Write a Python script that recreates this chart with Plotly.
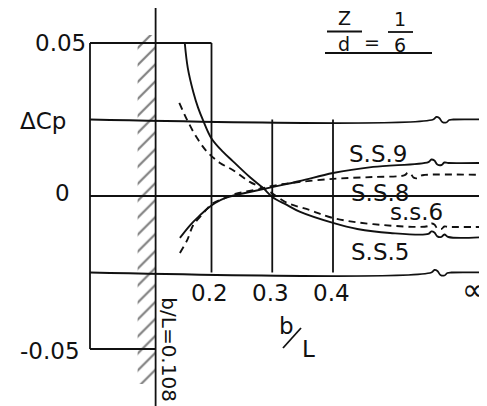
import plotly.graph_objects as go

# ---------------- data ----------------
x_inf = 0.652                      # where the "∞" column sits on the drawn b/L axis
x_tick_vals = [0.2, 0.3, 0.4, x_inf]
x_tick_text = ["0.2", "0.3", "0.4", "∞"]
y_tick_vals = [0.05, 0.0, -0.05]
y_tick_text = ["0.05", "0", "-0.05"]
wall_b_over_L = 0.108

ss5_x = [0.156, 0.161, 0.170, 0.178, 0.186, 0.200, 0.219, 0.235, 0.263, 0.285, 0.300, 0.324, 0.346, 0.400, 0.440, 0.494, 0.557]
ss5_y = [0.0500, 0.0418, 0.0340, 0.0288, 0.0248, 0.0188, 0.0144, 0.0114, 0.0062, 0.0026, -0.0003, -0.0029, -0.0052, -0.0088, -0.0108, -0.0121, -0.0124]
ss5_inf = -0.0134

ss6_x = [0.147, 0.160, 0.176, 0.193, 0.214, 0.235, 0.263, 0.291, 0.324, 0.362, 0.400, 0.466, 0.557]
ss6_y = [0.0304, 0.0248, 0.0190, 0.0144, 0.0108, 0.0085, 0.0046, 0.0020, -0.0022, -0.0046, -0.0072, -0.0092, -0.0098]
ss6_inf = -0.0101

ss9_x = [0.148, 0.165, 0.178, 0.193, 0.206, 0.222, 0.239, 0.263, 0.300, 0.346, 0.400, 0.466, 0.557]
ss9_y = [-0.0137, -0.0095, -0.0069, -0.0042, -0.0023, -0.0007, 0.0003, 0.0013, 0.0029, 0.0049, 0.0075, 0.0095, 0.0111]
ss9_inf = 0.0108

ss8_x = [0.148, 0.160, 0.170, 0.184, 0.194, 0.203, 0.222, 0.239, 0.280, 0.300, 0.329, 0.400, 0.466, 0.518]
ss8_y = [-0.0186, -0.0144, -0.0095, -0.0062, -0.0039, -0.0023, -0.0007, 0.0007, 0.0023, 0.0033, 0.0042, 0.0056, 0.0062, 0.0068]
ss8_inf = 0.0069

series_names = ["S.S.9", "S.S.8", "s.s.6", "S.S.5"]

# ---------------- layout helpers ----------------
OFF = 8                     # page body margin of the browser
WIN_W, WIN_H = 487, 406
W, H = WIN_W - OFF, WIN_H - OFF
X_RANGE = [(OFF - 90) / 607.5, (WIN_W - 90) / 607.5]
Y_RANGE = [(196 - WIN_H) / 3060, (196 - OFF) / 3060]
PX_X = (X_RANGE[1] - X_RANGE[0]) / W
PX_Y = (Y_RANGE[1] - Y_RANGE[0]) / H
WIGGLE = [(3, 2.5), (6, 1.5), (9, -2.5), (13, -3.0), (16, -0.5)]   # break symbol, px
FONT = "DejaVu Sans"
INK = "#111111"


def px(xw):   # window pixel -> paper x
    return (xw - OFF) / W


def py(yw):   # window pixel -> paper y
    return 1 - (yw - OFF) / H


def broken(xs, ys, y_end):
    x0, y0 = xs[-1], ys[-1]
    wx = [x0 + dx * PX_X for dx, dy in WIGGLE]
    wy = [y0 + dy * PX_Y for dx, dy in WIGGLE]
    return list(xs) + wx + [x0 + 20 * PX_X, x_inf], list(ys) + wy + [y_end, y_end]


fig = go.Figure()


def seg(xs, ys, width=1.8, dash="solid", shape="linear"):
    fig.add_trace(go.Scatter(x=xs, y=ys, mode="lines", hoverinfo="skip",
                             line=dict(color=INK, width=width, dash=dash, shape=shape)))


# hatched wall
hx0 = wall_b_over_L - 18 * PX_X
hy1 = Y_RANGE[1] - 27 * PX_Y
hy0 = Y_RANGE[0] + 22 * PX_Y
fig.add_trace(go.Scatter(
    x=[hx0, wall_b_over_L, wall_b_over_L, hx0, hx0],
    y=[hy1, hy1, hy0, hy0, hy1],
    mode="lines", line=dict(width=0), fill="toself", fillcolor="rgba(0,0,0,0)",
    fillpattern=dict(shape="/", size=12, solidity=0.18, fgcolor="#000000", bgcolor="rgba(0,0,0,0)"),
    hoverinfo="skip"))
seg([wall_b_over_L, wall_b_over_L], [Y_RANGE[1], Y_RANGE[0]], width=1.8)

# frame / grid
y_top, y_q, y_0, y_mq, y_bot = 0.05, 0.025, 0.0, -0.025, -0.05
seg([0, 0.2], [y_top, y_top])
bx, by = broken([0, 0.565], [y_q, y_q], y_q)
seg(bx, by, shape="spline")
seg([0, x_inf], [y_0, y_0])
bx, by = broken([0, 0.562], [y_mq, y_mq], y_mq)
seg(bx, by, shape="spline")
seg([0, wall_b_over_L], [y_bot, y_bot])
seg([0, 0], [y_bot, y_top])
seg([0.2, 0.2], [y_mq, y_top])
for xv in [0.3, 0.4, x_inf]:
    seg([xv, xv], [y_mq, y_q])

# curves
for xs, ys, yinf, dash in [(ss9_x, ss9_y, ss9_inf, "solid"),
                           (ss8_x, ss8_y, ss8_inf, "7px,5px"),
                           (ss6_x, ss6_y, ss6_inf, "7px,5px"),
                           (ss5_x, ss5_y, ss5_inf, "solid")]:
    bx, by = broken(xs, ys, yinf)
    seg(bx, by, width=1.9, dash=dash, shape="spline")

ann = []


def text(t, x, y, size=22, xref="x", yref="y", xanchor="center", yanchor="middle",
         xshift=0, yshift=0, angle=0):
    ann.append(dict(text=t, x=x, y=y, xref=xref, yref=yref, xanchor=xanchor, yanchor=yanchor,
                    xshift=xshift, yshift=yshift, textangle=angle, showarrow=False,
                    font=dict(family=FONT, size=size, color=INK)))


# y tick labels
text(y_tick_text[0], 0, y_tick_vals[0], xanchor="right", xshift=-2, yshift=0, size=23)
text(y_tick_text[1], 0, y_tick_vals[1], xanchor="right", xshift=-18, yshift=3, size=23)
text(y_tick_text[2], 0, y_tick_vals[2], xanchor="right", xshift=-8, yshift=-2, size=23)
text("ΔCp", 0, 0.025, xanchor="right", xshift=-22, yshift=-1, size=23)

# x tick labels
for v, t in zip(x_tick_vals, x_tick_text):
    if t == "∞":
        text(t, v, y_mq, yanchor="middle", yshift=-17, xshift=-12, size=30)
    else:
        text(t, v, y_mq, yanchor="top", yshift=-5, xshift=-2, size=23)

# axis title b/L (diagonal fraction)
text("b", px(286), py(326), xref="paper", yref="paper", size=23)
text("L", px(308), py(349), xref="paper", yref="paper", size=23)
shapes = [dict(type="line", xref="paper", yref="paper", x0=px(283), y0=py(348), x1=px(301), y1=py(328),
               line=dict(color=INK, width=1.8))]

# wall label
text("b/L=0.108", wall_b_over_L, -0.0503, xshift=13, angle=90, size=20)

# curve labels
for name, cx, cy in zip(series_names, [378, 380, 416, 380], [154, 193, 212, 252]):
    text(name, px(cx), py(cy), xref="paper", yref="paper", size=23)

# title Z/d = 1/6
text("Z", px(344), py(31.5), xref="paper", yref="paper", yanchor="bottom", size=19)
text("d", px(344), py(31.5), xref="paper", yref="paper", yanchor="top", size=19)
text("1", px(400), py(32), xref="paper", yref="paper", yanchor="bottom", size=19)
text("6", px(400), py(32), xref="paper", yref="paper", yanchor="top", size=19)
text("=", px(372), py(42), xref="paper", yref="paper", size=19)
for x0, x1, yy in [(327, 362, 31.5), (388, 413, 32), (325, 432, 53)]:
    shapes.append(dict(type="line", xref="paper", yref="paper", x0=px(x0), x1=px(x1), y0=py(yy), y1=py(yy),
                       line=dict(color=INK, width=1.8)))

fig.update_layout(
    width=W, height=H, margin=dict(l=0, r=0, t=0, b=0),
    paper_bgcolor="white", plot_bgcolor="white", showlegend=False,
    xaxis=dict(range=X_RANGE, visible=False, fixedrange=True),
    yaxis=dict(range=Y_RANGE, visible=False, fixedrange=True),
    annotations=ann, shapes=shapes,
)

fig.write_html("out.html", config={"displayModeBar": False})
